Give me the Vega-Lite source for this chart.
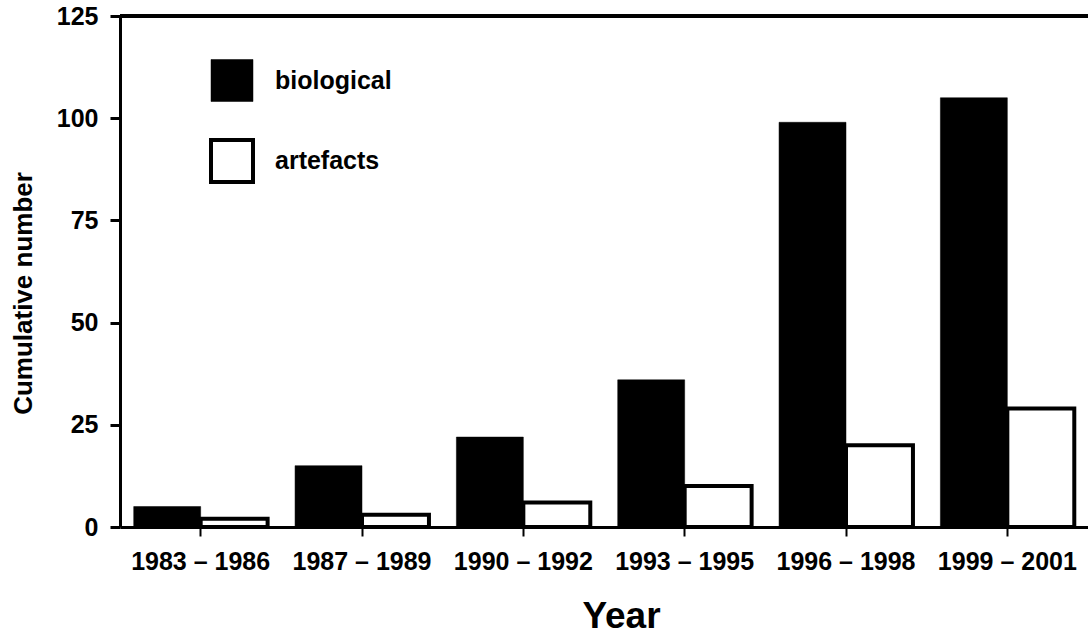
{
  "$schema": "https://vega.github.io/schema/vega-lite/v6.json",
  "width": 968,
  "height": 511,
  "autosize": {"type": "none"},
  "padding": {"left": 120, "top": 16, "right": 0, "bottom": 112},
  "background": "white",
  "config": {
    "view": {"stroke": null},
    "font": "Liberation Sans",
    "axis": {"labelFont": "Liberation Sans", "titleFont": "Liberation Sans", "labelColor": "black", "titleColor": "black", "domainColor": "black", "tickColor": "black", "grid": false}
  },
  "data": {
    "values": [
      {"period": "1983 – 1986", "series": "biological", "value": 5},
      {"period": "1983 – 1986", "series": "artefacts", "value": 2},
      {"period": "1987 – 1989", "series": "biological", "value": 15},
      {"period": "1987 – 1989", "series": "artefacts", "value": 3},
      {"period": "1990 – 1992", "series": "biological", "value": 22},
      {"period": "1990 – 1992", "series": "artefacts", "value": 6},
      {"period": "1993 – 1995", "series": "biological", "value": 36},
      {"period": "1993 – 1995", "series": "artefacts", "value": 10},
      {"period": "1996 – 1998", "series": "biological", "value": 99},
      {"period": "1996 – 1998", "series": "artefacts", "value": 20},
      {"period": "1999 – 2001", "series": "biological", "value": 105},
      {"period": "1999 – 2001", "series": "artefacts", "value": 29}
    ]
  },
  "layer": [
    {
      "mark": {"type": "bar", "stroke": "black"},
      "encoding": {
        "x": {
          "field": "period", "type": "nominal", "sort": null,
          "scale": {"paddingInner": 0.17, "paddingOuter": 0.085},
          "axis": {
            "title": "Year", "titleFontSize": 37, "titleFontWeight": "bold", "titlePadding": 24, "titleX": 501,
            "labelAngle": 0, "labelFontSize": 25, "labelFontWeight": "bold", "labelPadding": 13,
            "tickSize": 9, "tickWidth": 2, "domainWidth": 3
          }
        },
        "xOffset": {"field": "series", "type": "nominal", "sort": ["biological", "artefacts"], "scale": {"domain": ["biological", "artefacts"], "paddingInner": 0, "paddingOuter": 0}},
        "y": {
          "field": "value", "type": "quantitative",
          "scale": {"domain": [0, 125], "nice": false},
          "axis": {
            "title": "Cumulative number", "titleFontSize": 26, "titleFontWeight": "bold", "titlePadding": 20, "titleY": 277,
            "values": [0, 25, 50, 75, 100, 125],
            "labelFontSize": 25, "labelFontWeight": "bold", "labelPadding": 12,
            "tickSize": 10, "tickWidth": 3, "domainWidth": 3
          }
        },
        "fill": {
          "field": "series", "type": "nominal",
          "scale": {"domain": ["biological", "artefacts"], "range": ["black", "white"]},
          "legend": {
            "title": null, "orient": "none", "legendX": 89, "legendY": 43,
            "symbolType": "square", "symbolSize": 1764, "symbolStrokeColor": "black", "symbolStrokeWidth": 2,
            "symbolOpacity": 1,
            "labelFontSize": 25, "labelFontWeight": "bold", "labelFont": "Liberation Sans", "labelColor": "black",
            "labelOffset": 20, "rowPadding": 29, "padding": 0
          }
        },
        "strokeWidth": {
          "field": "series", "type": "nominal",
          "scale": {"domain": ["biological", "artefacts"], "range": [0.5, 4]},
          "legend": null
        }
      }
    },
    {
      "mark": {"type": "rule", "strokeWidth": 3, "color": "black"},
      "encoding": {"y": {"datum": 125}}
    }
  ]
}
